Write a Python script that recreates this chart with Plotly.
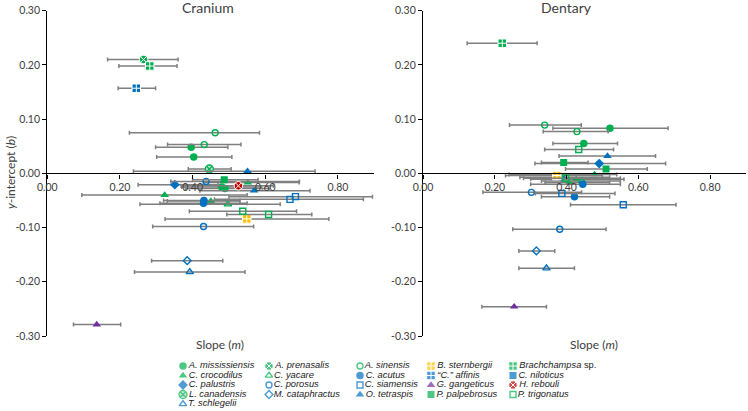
import plotly.graph_objects as go

W, H = 748, 411

# ---------------- data ----------------
SPECIES = ["A. mississiensis", "C. crocodilus", "C. palustris", "L. canadensis", "T. schlegelii",
           "A. prenasalis", "C. yacare", "C. porosus", "M. cataphractus",
           "A. sinensis", "C. acutus", "C. siamensis", "O. tetraspis",
           "B. sternbergii", "“C.” affinis", "G. gangeticus", "P. palpebrosus",
           "Brachchampsa sp.", "C. niloticus", "H. rebouli", "P. trigonatus"]

# Cranium
cr_species = ["A. prenasalis", "Brachchampsa sp.", "“C.” affinis", "A. sinensis", "A. sinensis",
              "A. mississiensis", "A. mississiensis", "L. canadensis", "O. tetraspis", "C. porosus",
              "C. palustris", "P. palpebrosus", "A. mississiensis", "A. mississiensis", "H. rebouli",
              "C. crocodilus", "O. tetraspis", "C. crocodilus", "C. siamensis", "C. siamensis",
              "C. acutus", "C. acutus", "C. crocodilus", "C. yacare", "P. trigonatus",
              "P. trigonatus", "B. sternbergii", "C. porosus", "M. cataphractus", "T. schlegelii",
              "G. gangeticus"]
cr_slope = [0.265, 0.282, 0.245, 0.462, 0.432,
            0.396, 0.403, 0.446, 0.551, 0.437,
            0.351, 0.487, 0.480, 0.489, 0.526,
            0.552, 0.569, 0.323, 0.668, 0.683,
            0.431, 0.430, 0.450, 0.497, 0.538,
            0.609, 0.549, 0.430, 0.385, 0.392,
            0.136]
cr_intercept = [0.210, 0.198, 0.157, 0.075, 0.053,
                0.048, 0.030, 0.008, 0.004, -0.015,
                -0.021, -0.012, -0.025, -0.028, -0.023,
                -0.017, -0.032, -0.040, -0.048, -0.043,
                -0.050, -0.055, -0.051, -0.057, -0.070,
                -0.076, -0.084, -0.098, -0.161, -0.182,
                -0.279]
cr_slope_lo = [0.166, 0.197, 0.195, 0.226, 0.331,
               0.298, 0.301, 0.388, 0.237, 0.340,
               0.250, 0.400, 0.370, 0.380, 0.368,
               0.430, 0.420, 0.095, 0.460, 0.500,
               0.320, 0.310, 0.330, 0.255, 0.391,
               0.494, 0.324, 0.290, 0.287, 0.240,
               0.072]
cr_slope_hi = [0.360, 0.357, 0.298, 0.584, 0.533,
               0.497, 0.508, 0.506, 0.737, 0.694,
               0.470, 0.580, 0.590, 0.610, 0.622,
               0.693, 0.723, 0.550, 0.870, 0.895,
               0.530, 0.550, 0.530, 0.641, 0.686,
               0.728, 0.775, 0.568, 0.483, 0.544,
               0.202]

# Dentary
de_species = ["Brachchampsa sp.", "A. sinensis", "A. mississiensis", "A. sinensis", "A. mississiensis",
              "P. trigonatus", "O. tetraspis", "P. palpebrosus", "C. palustris", "P. palpebrosus",
              "C. crocodilus", "B. sternbergii", "C. palustris", "P. trigonatus", "C. crocodilus",
              "C. yacare", "C. crocodilus", "C. acutus", "C. porosus", "C. siamensis",
              "C. acutus", "C. siamensis", "C. porosus", "M. cataphractus", "T. schlegelii",
              "G. gangeticus"]
de_slope = [0.221, 0.339, 0.521, 0.429, 0.448,
            0.434, 0.514, 0.392, 0.491, 0.510,
            0.478, 0.373, 0.385, 0.397, 0.427,
            0.443, 0.408, 0.445, 0.302, 0.387,
            0.422, 0.558, 0.381, 0.316, 0.344,
            0.254]
de_intercept = [0.240, 0.089, 0.083, 0.077, 0.055,
                0.044, 0.032, 0.020, 0.018, 0.008,
                -0.002, -0.004, -0.007, -0.009, -0.011,
                -0.014, -0.017, -0.020, -0.035, -0.037,
                -0.043, -0.058, -0.103, -0.143, -0.175,
                -0.246]
de_slope_lo = [0.123, 0.241, 0.362, 0.335, 0.362,
               0.339, 0.379, 0.330, 0.312, 0.397,
               0.240, 0.230, 0.270, 0.280, 0.300,
               0.330, 0.340, 0.300, 0.167, 0.313,
               0.330, 0.411, 0.250, 0.267, 0.267,
               0.164]
de_slope_hi = [0.318, 0.441, 0.683, 0.516, 0.542,
               0.531, 0.648, 0.460, 0.676, 0.625,
               0.540, 0.500, 0.520, 0.550, 0.560,
               0.550, 0.520, 0.550, 0.442, 0.535,
               0.520, 0.705, 0.510, 0.367, 0.422,
               0.344]

x_tickvals = [0.0, 0.2, 0.4, 0.6, 0.8]
x_ticktext = ["0.00", "0.20", "0.40", "0.60", "0.80"]
y_tickvals = [-0.3, -0.2, -0.1, 0.0, 0.1, 0.2, 0.3]
y_ticktext = ["-0.30", "-0.20", "-0.10", "0.00", "0.10", "0.20", "0.30"]

# ---------------- styles ----------------
G, B, Y, P, R = "#00B050", "#0070C0", "#FFC000", "#7030A0", "#C00000"
# symbol, fill colour, line colour, line width, size
STYLE = {
    "A. mississiensis": ("circle", G, G, 0, 7.5),
    "C. crocodilus": ("triangle-up", G, G, 0, 7.5),
    "C. palustris": ("diamond", B, B, 0, 7.5),
    "L. canadensis": ("circle-x", "#B7E4C7", G, 1.3, 8),
    "T. schlegelii": ("triangle-up-open", B, B, 1.4, 6.5),
    "A. prenasalis": ("circle-x", G, "white", 1.0, 8.5),
    "C. yacare": ("triangle-up-open", G, G, 1.4, 6.5),
    "C. porosus": ("circle-open", B, B, 1.4, 6),
    "M. cataphractus": ("diamond-open", B, B, 1.4, 6),
    "A. sinensis": ("circle-open", G, G, 1.4, 6),
    "C. acutus": ("circle", B, B, 0, 7.5),
    "C. siamensis": ("square-open", B, B, 1.4, 6),
    "O. tetraspis": ("triangle-up", B, B, 0, 7.5),
    "B. sternbergii": ("square-cross", Y, "white", 1.0, 8.5),
    "“C.” affinis": ("square-cross", B, "white", 1.0, 8.5),
    "G. gangeticus": ("triangle-up", P, P, 0, 7.5),
    "P. palpebrosus": ("square", G, G, 0, 7),
    "Brachchampsa sp.": ("square-cross", G, "white", 1.0, 8.5),
    "C. niloticus": ("square", B, B, 0, 7),
    "H. rebouli": ("circle-x", R, "white", 1.0, 8.5),
    "P. trigonatus": ("square-open", G, G, 1.4, 6),
}

FONT = "Lato, 'Liberation Sans', Arial, sans-serif"
TXT = "#404040"


def px(x):
    return x / W


def py(y):
    return 1 - y / H


fig = go.Figure()


def add_panel(species, slope, icpt, lo, hi, xa, ya):
    for sp in SPECIES:
        idx = [i for i, s in enumerate(species) if s == sp]
        if not idx:
            continue
        sym, col, lcol, lw, sz = STYLE[sp]
        fig.add_trace(go.Scatter(
            x=[slope[i] for i in idx],
            y=[icpt[i] for i in idx],
            mode="markers",
            xaxis=xa, yaxis=ya,
            showlegend=False,
            name=sp,
            marker=dict(symbol=sym, size=sz, color=col,
                        line=dict(color=lcol, width=lw)),
            error_x=dict(type="data", symmetric=False,
                         array=[hi[i] - slope[i] for i in idx],
                         arrayminus=[slope[i] - lo[i] for i in idx],
                         color="#7F7F7F", thickness=1.5, width=2),
        ))


add_panel(cr_species, cr_slope, cr_intercept, cr_slope_lo, cr_slope_hi, "x", "y")
add_panel(de_species, de_slope, de_intercept, de_slope_lo, de_slope_hi, "x2", "y2")

# ---------------- manual legend ----------------
col_x = [183, 269, 360, 431, 513]
row_y = [366, 375.5, 385, 394.5, 404]
col_sizes = [5, 4, 4, 4, 4]
lx, ly, lsym, lcol, llcol, llw, lsz, ltxt = [], [], [], [], [], [], [], []
k = 0
for c, n in enumerate(col_sizes):
    for r in range(n):
        sp = SPECIES[k]
        k += 1
        sym, col, lc, lw, sz = STYLE[sp]
        lx.append(col_x[c])
        ly.append(row_y[r])
        lsym.append(sym)
        lcol.append(col)
        llcol.append(lc)
        llw.append(lw)
        lsz.append(sz)
        if sp.endswith(" sp."):
            ltxt.append("<i>" + sp[:-4] + "</i> sp.")
        else:
            ltxt.append("<i>" + sp + "</i>")
fig.add_trace(go.Scatter(
    x=lx, y=ly, mode="markers+text", xaxis="x3", yaxis="y3", showlegend=False,
    text=ltxt, textposition="middle right",
    textfont=dict(family="'Liberation Sans', Arial, sans-serif", size=9.3, color="#222222"),
    marker=dict(symbol=lsym, size=lsz, color=lcol, line=dict(color=llcol, width=llw)),
    hoverinfo="skip",
))

# ---------------- axes ----------------
y_dom = [py(336), py(10.7)]
zero_pos = (y_dom[0] + y_dom[1]) / 2

xcommon = dict(range=[0, 0.9], tickvals=x_tickvals, ticktext=x_ticktext,
               showline=True, linecolor="#000000", linewidth=1.3,
               ticks="outside", ticklen=4, tickcolor="#000000",
               showgrid=False, zeroline=False, anchor="free", position=zero_pos,
               automargin=False,
               tickfont=dict(family=FONT, size=10.5, color=TXT))
ycommon = dict(range=[-0.3, 0.3], tickvals=y_tickvals, ticktext=y_ticktext,
               showline=True, linecolor="#000000", linewidth=1.3,
               ticks="outside", ticklen=4, tickcolor="#000000",
               showgrid=False, zeroline=False, domain=y_dom, automargin=False,
               tickfont=dict(family=FONT, size=10.5, color=TXT))


def ann(text, x, y, size, angle=0):
    return dict(text=text, x=px(x), y=py(y), xref="paper", yref="paper",
                xanchor="center", yanchor="middle", showarrow=False, textangle=angle,
                font=dict(family=FONT, size=size, color=TXT))


fig.update_layout(
    template="none",
    width=W, height=H, autosize=False,
    margin=dict(l=0, r=0, t=0, b=0, pad=0),
    paper_bgcolor="white", plot_bgcolor="rgba(0,0,0,0)",
    xaxis=dict(domain=[px(47.3), px(374.3)], **xcommon),
    yaxis=dict(anchor="x", **ycommon),
    xaxis2=dict(domain=[px(423), px(746)], **xcommon),
    yaxis2=dict(anchor="x2", **ycommon),
    xaxis3=dict(domain=[0, 1], range=[0, W], visible=False, fixedrange=True, automargin=False),
    yaxis3=dict(domain=[0, 1], range=[H, 0], visible=False, fixedrange=True, anchor="x3",
                automargin=False),
    showlegend=False,
    annotations=[
        ann("Cranium", 208, 8, 14),
        ann("Dentary", 566, 8, 14),
        ann("<i>y</i>-intercept (<i>b</i>)", 10, 173, 12, -90),
        ann("Slope (<i>m</i>)", 220, 344, 12),
        ann("Slope (<i>m</i>)", 594, 344, 12),
    ],
)

fig.write_html("out.html", config={"displayModeBar": False},
               post_script="document.body.style.margin='0';")
